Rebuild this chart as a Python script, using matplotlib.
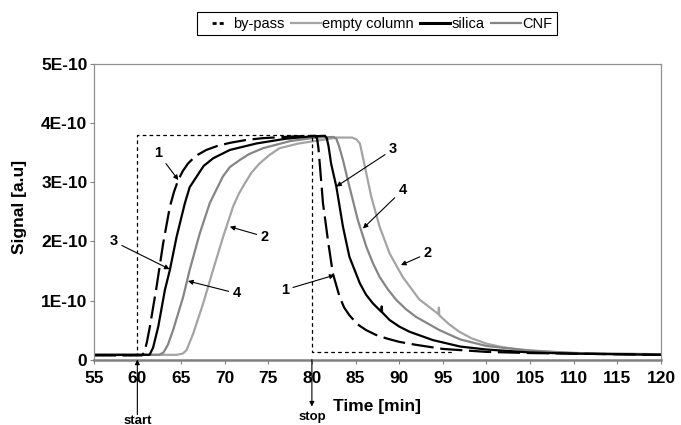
import matplotlib
matplotlib.use('Agg')
import matplotlib.pyplot as plt
from matplotlib.lines import Line2D

plt.rcParams['font.family'] = ['Liberation Sans', 'DejaVu Sans']

SCALE = 1e-10

# 1: by-pass (long dashed black)
bypass_t = [55, 58, 60.5, 60.8, 61.1, 61.44, 62.2, 62.96, 63.73, 64.2, 64.68, 65.2, 65.8, 66.7, 67.9, 69.2,
            70.6, 72.5, 74.4, 78, 80.4, 80.6, 80.75, 80.9, 81.27, 81.84, 82.4, 83.18, 83.7, 84.3, 85.2,
            86.2, 87.3, 88.5, 90.0, 91.9, 95, 100, 105, 110, 115, 120]
bypass_s = [0.07, 0.07, 0.07, 0.12, 0.3, 0.56, 1.23, 1.97, 2.59, 2.84, 3.04, 3.19, 3.32, 3.45, 3.55, 3.62,
            3.67, 3.72, 3.75, 3.78, 3.79, 3.74, 3.58, 3.32, 2.65, 2.02, 1.46, 1.06, 0.88, 0.75, 0.60,
            0.50, 0.42, 0.36, 0.30, 0.25, 0.18, 0.13, 0.11, 0.10, 0.09, 0.08]

# 2: empty column (light grey)
empty_t = [55, 64.5, 65.2, 65.64, 66.4, 67.54, 68.68, 69.83, 70.97, 71.6, 72.3, 73.1, 74.0, 75.1, 76.3,
           78.5, 81.2, 82.8, 84.6, 85.1, 85.5, 86.0, 86.8, 87.76, 88.9, 90.4, 92.3, 94.5, 94.55, 94.6,
           95.7, 96.9, 98.3, 100, 101.8, 103.8, 106.5, 109.5, 114, 120]
empty_s = [0.08, 0.08, 0.1, 0.16, 0.44, 0.95, 1.52, 2.08, 2.59, 2.80, 2.98, 3.17, 3.32, 3.46, 3.58,
           3.66, 3.72, 3.76, 3.76, 3.73, 3.66, 3.32, 2.76, 2.25, 1.80, 1.40, 1.02, 0.77, 0.88, 0.75,
           0.60, 0.47, 0.36, 0.27, 0.21, 0.17, 0.14, 0.115, 0.095, 0.08]

# 3: silica (black)
silica_t = [55, 60, 61.4, 61.8, 62.4, 63.16, 63.73, 64.5, 65.45, 66.0, 66.8, 67.6, 68.7, 70.6, 73.65, 77,
            80, 81.5, 81.7, 81.9, 82.2, 82.8, 83.56, 84.3, 85.5, 86.2, 87.0, 87.95, 88.0, 88.05, 88.9,
            90.0, 91.2, 93.85, 97, 100, 105, 110, 115, 120]
silica_s = [0.08, 0.08, 0.08, 0.2, 0.56, 1.18, 1.52, 2.08, 2.65, 2.92, 3.10, 3.28, 3.41, 3.55, 3.66, 3.74,
            3.78, 3.79, 3.75, 3.62, 3.32, 2.93, 2.25, 1.74, 1.29, 1.10, 0.95, 0.81, 0.90, 0.80, 0.67,
            0.56, 0.47, 0.33, 0.22, 0.17, 0.12, 0.10, 0.09, 0.08]

# 4: CNF (mid grey)
cnf_t = [55, 62.5, 63.0, 63.5, 64.1, 65.25, 66.0, 67.16, 68.3, 69.8, 70.6, 71.74, 72.8, 74.4, 77.5,
         80.5, 82.5, 82.8, 83.1, 83.56, 84.3, 85.27, 86.24, 87.0, 87.76, 88.7, 89.67, 90.8, 91.96, 94.6,
         97, 100, 105, 110, 115, 120]
cnf_s = [0.08, 0.08, 0.12, 0.25, 0.5, 1.06, 1.52, 2.14, 2.65, 3.10, 3.26, 3.38, 3.48, 3.58, 3.70,
         3.76, 3.77, 3.74, 3.62, 3.38, 2.93, 2.36, 1.91, 1.63, 1.40, 1.19, 1.01, 0.85, 0.72, 0.50,
         0.34, 0.23, 0.15, 0.11, 0.10, 0.09]

# ideal step (dashed box)
step_t = [55, 60, 60, 80, 80, 96]
step_s = [0.07, 0.07, 3.8, 3.8, 0.13, 0.13]

xticks = list(range(55, 121, 5))
yticks = [0, 1, 2, 3, 4, 5]
ytick_labels = ['0', '1E-10', '2E-10', '3E-10', '4E-10', '5E-10']

# number labels: (text, text position, arrow tip)
notes = [('1', (62.4, 3.49), (64.7, 3.04)),
         ('3', (57.3, 2.0), (63.7, 1.53)),
         ('4', (71.4, 1.12), (65.8, 1.33)),
         ('2', (74.6, 2.08), (70.6, 2.25)),
         ('3', (89.3, 3.56), (82.8, 2.93)),
         ('4', (90.4, 2.87), (85.85, 2.22)),
         ('2', (93.3, 1.80), (90.2, 1.60)),
         ('1', (76.9, 1.18), (82.6, 1.43))]

c_empty = '#a4a4a4'
c_cnf = '#858585'

fig = plt.figure(figsize=(6.81, 4.25), dpi=100)
ax = fig.add_axes([0.1376, 0.154, 0.833, 0.6946])

sc = lambda v: [x * SCALE for x in v]
ax.plot(empty_t, sc(empty_s), color=c_empty, lw=1.6)
ax.plot(cnf_t, sc(cnf_s), color=c_cnf, lw=1.6)
ax.plot(silica_t, sc(silica_s), color='black', lw=1.6)
ax.plot(bypass_t, sc(bypass_s), color='black', lw=1.6, linestyle=(0, (10, 3)))
ax.plot(step_t, sc(step_s), color='black', lw=0.9, linestyle=(0, (3, 2.5)))

for txt, tpos, tip in notes:
    ax.annotate(txt, xy=(tip[0], tip[1] * SCALE), xytext=(tpos[0], tpos[1] * SCALE),
                ha='center', va='center', fontsize=10.5, fontweight='bold',
                arrowprops=dict(arrowstyle='-|>', color='black', lw=0.8, mutation_scale=7,
                                shrinkA=1, shrinkB=0))

ax.set_xlim(55, 120)
ax.set_ylim(0, 5 * SCALE)
ax.set_xticks(xticks)
ax.set_xticklabels([str(x) for x in xticks], fontsize=12.5, fontweight='bold')
ax.set_yticks([y * SCALE for y in yticks])
ax.set_yticklabels(ytick_labels, fontsize=12.5, fontweight='bold')
ax.tick_params(axis='both', direction='out', length=3, width=0.8, color='#808080')
ax.tick_params(axis='x', pad=5)
ax.tick_params(axis='y', pad=1.5)
for side in ['top', 'right', 'left']:
    ax.spines[side].set_color('#909090')
    ax.spines[side].set_linewidth(0.9)
ax.spines['bottom'].set_color('#808080')
ax.spines['bottom'].set_linewidth(1.8)

# start / stop markers below the axis
ax.annotate('', xy=(60, 0), xytext=(0, -55), textcoords='offset pixels', annotation_clip=False,
            arrowprops=dict(arrowstyle='-|>', color='black', lw=0.8, mutation_scale=7, shrinkA=0, shrinkB=0))
ax.annotate('start', xy=(60, 0), xytext=(0, -61), textcoords='offset pixels', annotation_clip=False,
            ha='center', va='center', fontsize=9.5, fontweight='bold')
ax.annotate('', xy=(80, 0), xytext=(0, -47), textcoords='offset pixels', annotation_clip=False,
            arrowprops=dict(arrowstyle='<|-', color='black', lw=0.8, mutation_scale=7, shrinkA=0, shrinkB=0))
ax.annotate('stop', xy=(80, 0), xytext=(0, -57), textcoords='offset pixels', annotation_clip=False,
            ha='center', va='center', fontsize=9.5, fontweight='bold')

fig.text(376.7 / 681, 1 - 406.7 / 425, 'Time [min]', ha='center', va='center',
         fontsize=12.5, fontweight='bold')
fig.text(20 / 681, 1 - 206.7 / 425, 'Signal [a.u]', ha='center', va='center', rotation=90,
         fontsize=12.5, fontweight='bold')

handles = [Line2D([], [], color='black', lw=2, linestyle=(6.8, (1.45, 1.1, 1.45, 6.8))),
           Line2D([], [], color=c_empty, lw=1.6),
           Line2D([], [], color='black', lw=2.2),
           Line2D([], [], color=c_cnf, lw=1.6)]
labels = ['by-pass', 'empty column', 'silica', 'CNF']
leg = fig.legend(handles, labels, loc='center', bbox_to_anchor=(0.5536, 0.944), ncol=4,
                 fancybox=False, edgecolor='black', framealpha=1, fontsize=10.5,
                 handlelength=2.05, handletextpad=0.1, columnspacing=0.45, borderpad=0.3,
                 borderaxespad=0)
leg.get_frame().set_linewidth(0.8)

fig.savefig('out.png', dpi=100)
